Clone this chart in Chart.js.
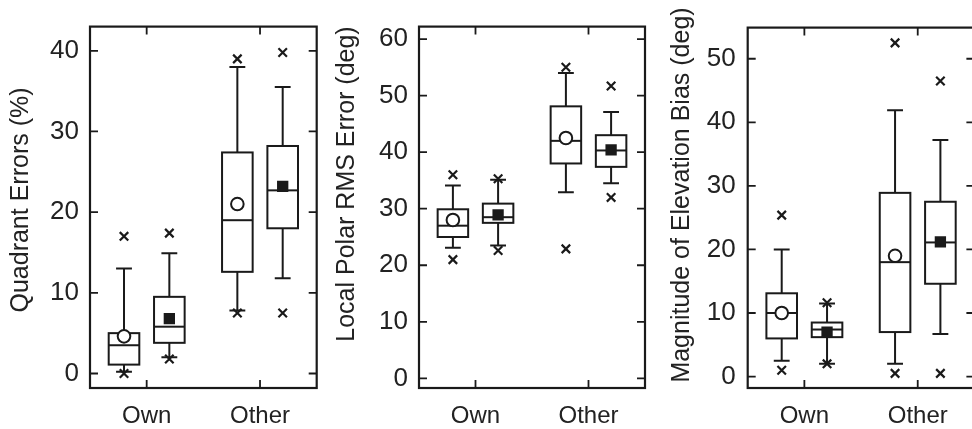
<!DOCTYPE html>
<html><head><meta charset="utf-8">
<script src="https://cdn.jsdelivr.net/npm/chart.js@4.4.0/dist/chart.umd.min.js"></script>
<style>
html,body{margin:0;padding:0;background:#fff;overflow:hidden;width:972px;height:429px;position:relative;}
canvas{position:absolute;top:0;}
</style></head><body>
<canvas id="c1" width="325" height="429" style="left:0px"></canvas>
<canvas id="c2" width="330" height="429" style="left:325px"></canvas>
<canvas id="c3" width="335" height="429" style="left:655px"></canvas>
<script>
// ---- data ----
const categories = ['Own', 'Other'];
const categoryPositions = [1, 3];
const boxPositions = [0.6, 1.4, 2.6, 3.4];

const p1Title = 'Quadrant Errors (%)';
const p1Ticks = [0, 10, 20, 30, 40];
const p1WhiskerLow  = [0.2, 2.0, 7.8, 11.8];
const p1Q1          = [1.1, 3.8, 12.6, 18.0];
const p1Median      = [3.5, 5.8, 19.0, 22.7];
const p1Q3          = [5.0, 9.5, 27.4, 28.2];
const p1WhiskerHigh = [13.0, 14.9, 38.0, 35.5];
const p1Mean        = [4.6, 6.8, 21.0, 23.2];
const p1Outliers    = [[17.0, 0.0], [17.4, 1.8], [39.0, 7.5], [39.8, 7.5]];

const p2Title = 'Local Polar RMS Error (deg)';
const p2Ticks = [0, 10, 20, 30, 40, 50, 60];
const p2WhiskerLow  = [23.1, 23.5, 32.9, 34.5];
const p2Q1          = [25.0, 27.5, 38.0, 37.4];
const p2Median      = [27.0, 28.5, 42.0, 40.3];
const p2Q3          = [29.9, 30.9, 48.1, 43.0];
const p2WhiskerHigh = [34.1, 35.1, 54.0, 47.1];
const p2Mean        = [28.0, 28.9, 42.5, 40.4];
const p2Outliers    = [[36.0, 21.0], [35.3, 22.6], [55.0, 22.9], [51.7, 32.0]];

const p3Title = 'Magnitude of Elevation Bias (deg)';
const p3Ticks = [0, 10, 20, 30, 40, 50];
const p3WhiskerLow  = [2.5, 2.0, 2.0, 6.7];
const p3Q1          = [6.0, 6.2, 7.0, 14.6];
const p3Median      = [10.0, 7.4, 18.0, 21.1];
const p3Q3          = [13.1, 8.5, 28.9, 27.5];
const p3WhiskerHigh = [20.0, 11.5, 41.9, 37.2];
const p3Mean        = [10.0, 7.0, 19.0, 21.2];
const p3Outliers    = [[25.4, 1.0], [11.6, 2.0], [52.5, 0.5], [46.5, 0.5]];

// ---- styling ----
const INK = '#1a1a1a';
const TEXT = '#222';
const FONT = '"Liberation Sans", Arial, Helvetica, sans-serif';
const BOX_W = 0.54, CAP_W = 0.28;

const boxPlugin = {
  id: 'boxes',
  beforeDatasetsDraw(chart) {
    const b = chart.options.plugins.boxes;
    const xs = chart.scales.x, ys = chart.scales.y;
    const ctx = chart.ctx;
    ctx.save();
    ctx.strokeStyle = INK; ctx.lineWidth = 2; ctx.lineCap = 'butt';
    for (let i = 0; i < boxPositions.length; i++) {
      const c = boxPositions[i];
      const xl = xs.getPixelForValue(c - BOX_W / 2), xr = xs.getPixelForValue(c + BOX_W / 2);
      const cl = xs.getPixelForValue(c - CAP_W / 2), cr = xs.getPixelForValue(c + CAP_W / 2);
      const xc = xs.getPixelForValue(c);
      const yLo = ys.getPixelForValue(b.lo[i]), yQ1 = ys.getPixelForValue(b.q1[i]);
      const yMd = ys.getPixelForValue(b.med[i]), yQ3 = ys.getPixelForValue(b.q3[i]);
      const yHi = ys.getPixelForValue(b.hi[i]);
      ctx.beginPath();
      ctx.moveTo(xc, yQ3); ctx.lineTo(xc, yHi);
      ctx.moveTo(cl, yHi); ctx.lineTo(cr, yHi);
      ctx.moveTo(xc, yQ1); ctx.lineTo(xc, yLo);
      ctx.moveTo(cl, yLo); ctx.lineTo(cr, yLo);
      ctx.stroke();
      ctx.fillStyle = '#fff';
      ctx.fillRect(xl, yQ3, xr - xl, yQ1 - yQ3);
      ctx.strokeRect(xl, yQ3, xr - xl, yQ1 - yQ3);
      ctx.beginPath();
      ctx.moveTo(xl, yMd); ctx.lineTo(xr, yMd);
      ctx.stroke();
    }
    ctx.restore();
  },
  afterDraw(chart) {
    const b = chart.options.plugins.boxes;
    const xs = chart.scales.x, ys = chart.scales.y;
    const a = chart.chartArea, ctx = chart.ctx;
    const T = 8;
    ctx.save();
    ctx.strokeStyle = INK; ctx.lineWidth = 2.2;
    ctx.strokeRect(a.left, a.top, a.right - a.left, a.bottom - a.top);
    ctx.lineWidth = 1.8;
    ctx.beginPath();
    ys.ticks.forEach(t => {
      const y = ys.getPixelForValue(t.value);
      ctx.moveTo(a.left, y); ctx.lineTo(a.left + T, y);
      ctx.moveTo(a.right, y); ctx.lineTo(a.right - T, y);
    });
    xs.ticks.forEach(t => {
      const x = xs.getPixelForValue(t.value);
      ctx.moveTo(x, a.top); ctx.lineTo(x, a.top + T);
      ctx.moveTo(x, a.bottom); ctx.lineTo(x, a.bottom - T);
    });
    ctx.stroke();
    // vertical axis title
    ctx.translate(b.titleX, b.titleY);
    ctx.rotate(-Math.PI / 2);
    ctx.fillStyle = TEXT;
    ctx.font = '25px ' + FONT;
    ctx.textAlign = 'center';
    ctx.textBaseline = 'middle';
    ctx.fillText(b.title, 0, 0);
    ctx.restore();
  }
};

function makePanel(id, p) {
  const canvasH = 429;
  const outlierPts = [];
  p.outliers.forEach((arr, i) => arr.forEach(v => outlierPts.push({x: boxPositions[i], y: v})));
  const circlePts = [0, 2].map(i => ({x: boxPositions[i], y: p.mean[i]}));
  const squarePts = [1, 3].map(i => ({x: boxPositions[i], y: p.mean[i]}));
  return new Chart(document.getElementById(id), {
    type: 'scatter',
    data: {
      datasets: [
        {data: outlierPts, pointStyle: 'crossRot', radius: 6, borderWidth: 2.2, borderColor: INK, backgroundColor: INK},
        {data: circlePts, pointStyle: 'circle', radius: 6.3, borderWidth: 2, borderColor: INK, backgroundColor: '#fff'},
        {data: squarePts, pointStyle: 'rect', radius: 8, borderWidth: 0, borderColor: INK, backgroundColor: INK}
      ]
    },
    options: {
      responsive: false,
      animation: false,
      events: [],
      layout: {padding: {top: p.plotTop, right: p.rightPad, left: 0, bottom: 0}},
      plugins: {
        legend: {display: false}, tooltip: {enabled: false},
        boxes: {lo: p.lo, q1: p.q1, med: p.med, q3: p.q3, hi: p.hi,
                title: p.title, titleX: p.titleX, titleY: p.titleY}
      },
      scales: {
        x: {
          type: 'linear', min: 0, max: 4,
          grid: {display: false, drawTicks: false}, border: {display: false},
          afterBuildTicks: s => { s.ticks = categoryPositions.map(v => ({value: v})); },
          afterFit: s => { s.height = canvasH - p.plotBottom; },
          ticks: {
            autoSkip: false, maxRotation: 0, padding: p.xPad,
            color: TEXT, font: {family: FONT, size: 24},
            callback: v => categories[categoryPositions.indexOf(v)]
          }
        },
        y: {
          type: 'linear', min: p.min, max: p.max,
          grid: {display: false, drawTicks: false}, border: {display: false},
          afterBuildTicks: s => { s.ticks = p.ticks.map(v => ({value: v})); },
          afterFit: s => { s.width = p.axisW; },
          ticks: {padding: p.yPad, color: TEXT, font: {family: FONT, size: 26}},
          title: {display: false}
        }
      }
    },
    plugins: [boxPlugin]
  });
}

makePanel('c1', {title: p1Title, ticks: p1Ticks, min: -1.8, max: 43.0,
  lo: p1WhiskerLow, q1: p1Q1, med: p1Median, q3: p1Q3, hi: p1WhiskerHigh, mean: p1Mean, outliers: p1Outliers,
  plotTop: 7, plotBottom: 388, rightPad: 7, axisW: 90, yPad: 11, xPad: 14, titleX: 21, titleY: 200});
makePanel('c2', {title: p2Title, ticks: p2Ticks, min: -1.7, max: 62.2,
  lo: p2WhiskerLow, q1: p2Q1, med: p2Median, q3: p2Q3, hi: p2WhiskerHigh, mean: p2Mean, outliers: p2Outliers,
  plotTop: 6, plotBottom: 388, rightPad: 10, axisW: 94, yPad: 11, xPad: 14, titleX: 22, titleY: 184});
makePanel('c3', {title: p3Title, ticks: p3Ticks, min: -1.8, max: 54.9,
  lo: p3WhiskerLow, q1: p3Q1, med: p3Median, q3: p3Q3, hi: p3WhiskerHigh, mean: p3Mean, outliers: p3Outliers,
  plotTop: 8, plotBottom: 388, rightPad: 15.6, axisW: 92.7, yPad: 12, xPad: 14, titleX: 27, titleY: 195});
</script>
</body></html>
